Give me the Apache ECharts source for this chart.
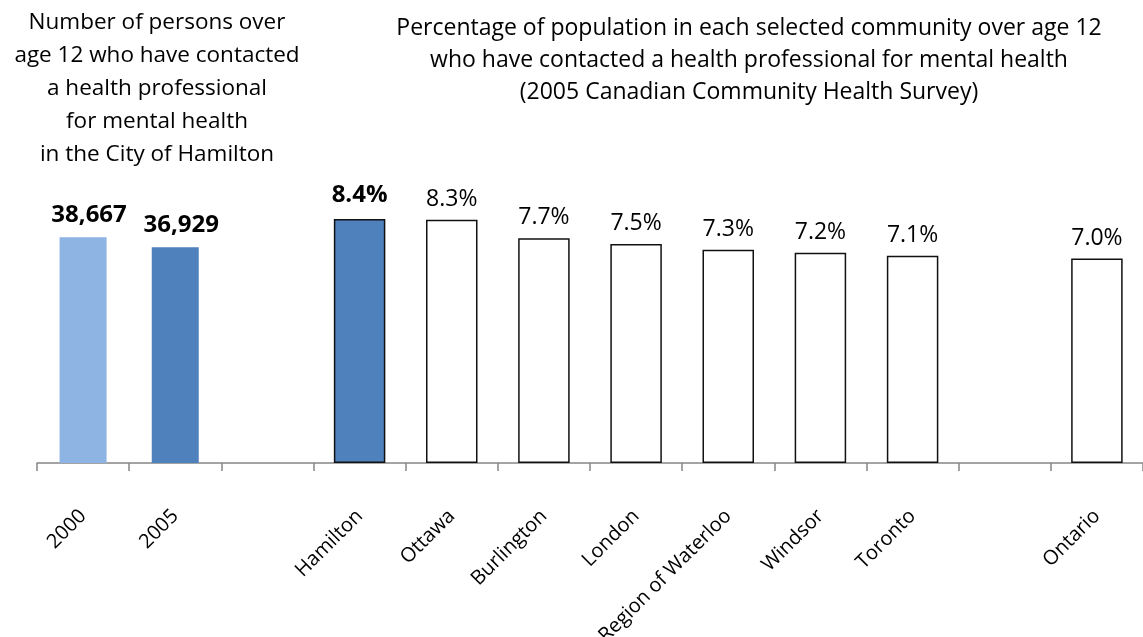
<!DOCTYPE html>
<html><head><meta charset="utf-8">
<script src="https://cdn.jsdelivr.net/npm/echarts@6/dist/echarts.min.js"></script>
<style>html,body{margin:0;padding:0;background:#fff}#c{width:1143px;height:637px}</style>
</head><body><div id="c"></div>
<script>
const categories = ['2000', '2005', ' ', 'Hamilton', 'Ottawa', 'Burlington', 'London', 'Region of Waterloo', 'Windsor', 'Toronto', '  ', 'Ontario'];
const personCounts = [38667, 36929, null, null, null, null, null, null, null, null, null, null];
const percentValues = [null, null, null, 8.36, 8.33, 7.7, 7.5, 7.3, 7.2, 7.1, null, 7.0];
const leftTitleLines = ['Number of persons over', 'age 12 who have contacted', 'a health professional', 'for mental health', 'in the City of Hamilton'];
const rightTitleLines = ['Percentage of population in each selected community over age 12', 'who have contacted a health professional for mental health', '(2005 Canadian Community Health Survey)'];

const FONT = 'Open Sans';
const countColors = ['#8EB4E3', '#4F81BD'];
const highlightName = 'Hamilton';

const countData = personCounts.map((v, i) => v == null ? null : {
  value: v, itemStyle: { color: countColors[i] }
});
const pctData = percentValues.map((v, i) => {
  if (v == null) return null;
  const hi = categories[i] === highlightName;
  return {
    value: v,
    itemStyle: { color: hi ? '#4F81BD' : '#ffffff' },
    label: { fontWeight: hi ? 'bold' : 'normal', fontSize: hi ? 24 : 23, distance: hi ? 12 : 9 }
  };
});

const chart = echarts.init(document.getElementById('c'), null, { renderer: 'canvas' });
chart.setOption({
  animation: false,
  backgroundColor: '#ffffff',
  grid: { left: 37, right: 0, top: 171, bottom: 174, containLabel: false, outerBoundsMode: 'none' },
  graphic: [
    { type: 'text', x: 157, y: 6, style: { text: leftTitleLines.join('\n'), align: 'center', verticalAlign: 'top', fontFamily: FONT, fontSize: 22.5, lineHeight: 33, fill: '#000' } },
    { type: 'text', x: 749, y: 12, style: { text: rightTitleLines.join('\n'), align: 'center', verticalAlign: 'top', fontFamily: FONT, fontSize: 23, lineHeight: 32, fill: '#000' } }
  ],
  xAxis: [
    {
      type: 'category', data: categories, boundaryGap: true,
      axisLine: { lineStyle: { color: '#878787', width: 1.5 } },
      axisTick: { show: true, length: 8, alignWithLabel: false, lineStyle: { color: '#878787', width: 1.5 } },
      axisLabel: { interval: 0, rotate: 45, margin: 50, verticalAlign: 'middle', fontFamily: FONT, fontSize: 20, color: '#000' }
    },
    { type: 'category', data: categories, show: false }
  ],
  yAxis: [
    { type: 'value', min: 0, max: 10, show: false, splitLine: { show: false } },
    { type: 'value', min: 0, max: 50000, show: false, splitLine: { show: false } }
  ],
  series: [
    {
      type: 'bar', name: 'Persons', xAxisIndex: 1, yAxisIndex: 1, barWidth: 47,
      data: countData,
      label: { show: true, position: 'top', distance: 10, offset: [6, 0], fontFamily: FONT, fontSize: 24, fontWeight: 'bold', color: '#000',
        formatter: p => p.value.toLocaleString('en-US') }
    },
    {
      type: 'bar', name: 'Percent', xAxisIndex: 0, yAxisIndex: 0, barWidth: 51.5,
      data: pctData,
      itemStyle: { borderColor: '#111', borderWidth: 1.5 },
      label: { show: true, position: 'top', fontFamily: FONT, color: '#000',
        formatter: p => p.value.toFixed(1) + '%' }
    }
  ]
});
</script></body></html>
